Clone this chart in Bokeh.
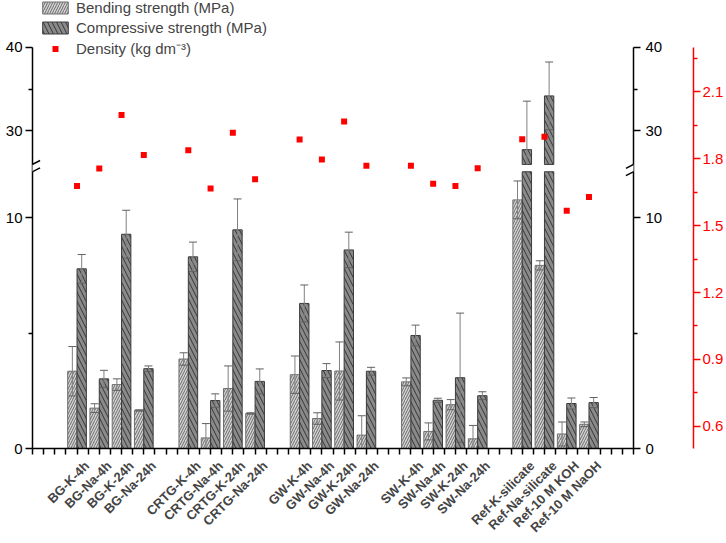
import math
from bokeh.plotting import figure
from bokeh.models import (Range1d, LinearAxis, FixedTicker, CustomJSTickFormatter,
                          Legend, LegendItem, Arrow)
from bokeh.embed import file_html
from bokeh.resources import INLINE

# ---------------- data ----------------
categories = ["BG-K-4h", "BG-Na-4h", "BG-K-24h", "BG-Na-24h",
              "CRTG-K-4h", "CRTG-Na-4h", "CRTG-K-24h", "CRTG-Na-24h",
              "GW-K-4h", "GW-Na-4h", "GW-K-24h", "GW-Na-24h",
              "SW-K-4h", "SW-Na-4h", "SW-K-24h", "SW-Na-24h",
              "Ref-K-silicate", "Ref-Na-silicate", "Ref-10 M KOH", "Ref-10 M NaOH"]
bending = [3.35, 1.75, 2.77, 1.65, 3.88, 0.46, 2.60, 1.52, 3.20, 1.30, 3.36, 0.58,
           2.89, 0.74, 1.90, 0.42, 10.78, 7.94, 0.63, 1.05]
bending_err = [1.07, 0.19, 0.25, 0.03, 0.27, 0.62, 0.98, 0.03, 0.81, 0.25, 1.26, 0.84,
               0.17, 0.37, 0.22, 0.58, 0.82, 0.20, 0.52, 0.10]
compressive = [7.79, 3.02, 9.29, 3.46, 8.31, 2.08, 9.48, 2.91, 6.29, 3.38, 8.61, 3.35,
               4.90, 2.09, 3.07, 2.29, 27.77, 34.20, 1.95, 1.99]
compressive_err = [0.62, 0.37, 1.04, 0.12, 0.64, 0.29, 1.34, 0.54, 0.80, 0.30, 0.77, 0.17,
                   0.45, 0.09, 2.80, 0.17, 5.80, 4.05, 0.24, 0.22]
density = [1.678, 1.757, 1.997, 1.817, 1.838, 1.667, 1.917, 1.708, 1.887, 1.797, 1.968, 1.769,
           1.769, 1.688, 1.678, 1.758, 1.888, 1.899, 1.567, 1.629]
density_ticks = [0.6, 0.9, 1.2, 1.5, 1.8, 2.1]
density_minor = [0.75, 1.05, 1.35, 1.65, 1.95, 2.25]
DENS_MIN, DENS_MAX = 0.5, 2.3
strength_ticks_low = [0, 10]
strength_ticks_up = [30, 40]

# ---------------- layout parameters ----------------
positions = [g * 5 + j + 2 for g in range(5) for j in range(4)]
X_MAX = 27
LOW_MAX = 12.0
UP_MIN, UP_MAX = 26.0, 40.0
WIDTH, HEIGHT = 726, 543
BOTTOM = 94
FRAME_H = HEIGHT - BOTTOM          # frame spans whole top (legend lives inside it)
AXIS_TOP = 47                      # pixel row of the value 40 / density 2.3
AXIS_FRAC = (FRAME_H - AXIS_TOP) / FRAME_H
LOW_FRAC = 0.69                    # share of axis height used by 0..12
UP_FRAC = 0.2918                   # share of axis height used by 26..40
low_end = LOW_MAX / (LOW_FRAC * AXIS_FRAC)
up_k = (UP_MAX - UP_MIN) / (UP_FRAC * AXIS_FRAC)
up_start = UP_MIN - (1 - UP_FRAC) * AXIS_FRAC * up_k
up_end = up_start + up_k
dens_end = DENS_MIN + (DENS_MAX - DENS_MIN) / AXIS_FRAC
BW = 0.42
LABEL_SHIFT = 0.45
FONT = "Liberation Sans"
LEG_H = 59


def up_to_low(v):
    return low_end * (v - up_start) / (up_end - up_start)


p = figure(width=WIDTH, height=HEIGHT, x_range=Range1d(0, X_MAX), y_range=Range1d(0, low_end),
           output_backend="svg", toolbar_location=None,
           min_border_top=0, min_border_bottom=BOTTOM, min_border_left=32, min_border_right=0)
p.extra_y_ranges = {"up": Range1d(up_start, up_end), "dens": Range1d(DENS_MIN, dens_end)}
p.extra_x_ranges = {"lab": Range1d(-LABEL_SHIFT, X_MAX - LABEL_SHIFT)}
p.xgrid.visible = False
p.ygrid.visible = False
p.outline_line_color = None
p.background_fill_color = "white"
p.border_fill_color = "white"

bend_style = dict(fill_color="#d4d4d4", line_color="#707070", line_width=1,
                  hatch_pattern="/", hatch_color="#6a6a6a", hatch_scale=5, hatch_weight=1)
comp_style = dict(fill_color="#8a8a8a", line_color="#3c3c3c", line_width=1,
                  hatch_pattern="\\", hatch_color="#2b2b2b", hatch_scale=9, hatch_weight=0.9)

# ---- bars, lower segment ----
xb = [x - BW / 2 for x in positions]
xc = [x + BW / 2 for x in positions]
r_bend = p.vbar(x=xb, width=BW, bottom=0, top=[min(v, LOW_MAX) for v in bending], **bend_style)
r_comp = p.vbar(x=xc, width=BW, bottom=0, top=[min(v, LOW_MAX) for v in compressive], **comp_style)

# ---- bars, upper segment ----
ub = [(x, v) for x, v in zip(xb, bending) if v > UP_MIN]
uc = [(x, v) for x, v in zip(xc, compressive) if v > UP_MIN]
if ub:
    p.vbar(x=[a for a, b in ub], width=BW, bottom=UP_MIN, top=[b for a, b in ub],
           y_range_name="up", **bend_style)
if uc:
    p.vbar(x=[a for a, b in uc], width=BW, bottom=UP_MIN, top=[b for a, b in uc],
           y_range_name="up", **comp_style)

# ---- error bars ----
low_x0, low_y0, low_y1, low_cx, low_cy = [], [], [], [], []
up_x0, up_y0, up_y1, up_cx, up_cy = [], [], [], [], []
for xs, vals, errs in ((xb, bending, bending_err), (xc, compressive, compressive_err)):
    for x, v, e in zip(xs, vals, errs):
        if v <= LOW_MAX:
            low_x0.append(x); low_y0.append(max(v - e, 0)); low_y1.append(v + e)
            low_cx.append(x); low_cy.append(v + e)
            if v - e >= 0:
                low_cx.append(x); low_cy.append(v - e)
        else:
            up_x0.append(x); up_y0.append(max(v - e, UP_MIN)); up_y1.append(v + e)
            up_cx.append(x); up_cy.append(v + e)
            if v - e >= UP_MIN:
                up_cx.append(x); up_cy.append(v - e)

err_col = "#808080"
p.segment(x0=low_x0, x1=low_x0, y0=low_y0, y1=low_y1, line_color=err_col, line_width=1)
p.scatter(x=low_cx, y=low_cy, marker="dash", size=8, line_color="#606060", line_width=1)
p.segment(x0=up_x0, x1=up_x0, y0=up_y0, y1=up_y1, line_color=err_col, line_width=1,
          y_range_name="up")
p.scatter(x=up_cx, y=up_cy, marker="dash", size=8, line_color="#606060", line_width=1,
          y_range_name="up")

# ---- density ----
r_dens = p.scatter(x=positions, y=density, y_range_name="dens", marker="square", size=6,
                   fill_color="#ff0000", line_color=None)

# ---------------- axes ----------------
strength_ticker = FixedTicker(
    ticks=strength_ticks_low + [up_to_low(v) for v in strength_ticks_up],
    minor_ticks=[(strength_ticks_low[0] + strength_ticks_low[1]) / 2,
                 up_to_low((strength_ticks_up[0] + strength_ticks_up[1]) / 2)])
strength_fmt_code = """
if (tick <= cut + 1e-6) return tick.toFixed(0);
return Math.round(us + tick / lo * (ue - us)).toFixed(0);
"""
fmt_args = dict(lo=low_end, us=up_start, ue=up_end, cut=LOW_MAX)
strength_bounds = (0, up_to_low(UP_MAX))


def style_axis(ax, color="black"):
    ax.axis_line_color = color
    ax.axis_line_width = 1.5
    ax.major_tick_line_color = color
    ax.major_tick_line_width = 1.5
    ax.minor_tick_line_color = color
    ax.minor_tick_line_width = 1.5
    ax.major_tick_in = 0
    ax.major_tick_out = 7
    ax.minor_tick_in = 0
    ax.minor_tick_out = 4
    ax.major_label_text_font = FONT
    ax.major_label_text_font_size = "15px"
    ax.major_label_text_color = color


ly = p.yaxis[0]
ly.ticker = strength_ticker
ly.formatter = CustomJSTickFormatter(args=fmt_args, code=strength_fmt_code)
ly.bounds = strength_bounds
style_axis(ly)
ly.major_label_standoff = 3

ry = LinearAxis(ticker=strength_ticker,
                formatter=CustomJSTickFormatter(args=fmt_args, code=strength_fmt_code),
                bounds=strength_bounds,
                axis_label=" ", axis_label_standoff=14, axis_label_text_font_size="10px")
style_axis(ry)
p.add_layout(ry, "right")

dy = LinearAxis(y_range_name="dens", bounds=(DENS_MIN, DENS_MAX),
                ticker=FixedTicker(ticks=density_ticks, minor_ticks=density_minor))
style_axis(dy, "#ff0000")
dy.major_label_standoff = 2
dy.axis_label_standoff = 0
p.add_layout(dy, "right")

# bottom axis: ticks every half unit, no labels
bx = p.xaxis[0]
bx.ticker = FixedTicker(ticks=[i * 0.5 for i in range(2 * X_MAX + 1)], minor_ticks=[])
bx.formatter = CustomJSTickFormatter(code="return '';")
style_axis(bx)
bx.major_tick_out = 6
bx.major_label_standoff = 0
bx.major_label_text_font_size = "1px"
bx.major_label_text_color = None

# category labels: a second, line-less axis on a slightly shifted range
lx = LinearAxis(x_range_name="lab", ticker=FixedTicker(ticks=positions, minor_ticks=[]),
                formatter=CustomJSTickFormatter(args=dict(pos=positions, names=categories),
                                                code="const i = pos.indexOf(tick); return i < 0 ? '' : names[i];"))
lx.axis_line_color = None
lx.major_tick_line_color = None
lx.minor_tick_line_color = None
lx.major_tick_in = 0
lx.major_tick_out = 0
lx.minor_tick_in = 0
lx.minor_tick_out = 0
lx.major_label_standoff = 9
lx.major_label_orientation = math.pi / 4
lx.major_label_text_font = FONT
lx.major_label_text_font_size = "13px"
lx.major_label_text_font_style = "bold"
p.add_layout(lx, "below")

# ---- axis break marks ----
gap_lo = LOW_MAX
gap_hi = up_to_low(UP_MIN)
for xa in (0, X_MAX):
    p.add_layout(Arrow(start=None, end=None, x_start=xa, x_end=xa, y_start=gap_lo, y_end=gap_hi,
                       line_color="white", line_width=4))
    for yy in (gap_lo, gap_hi):
        p.add_layout(Arrow(start=None, end=None, x_start=xa - 0.34, x_end=xa + 0.34,
                           y_start=yy - 0.17, y_end=yy + 0.17, line_color="black", line_width=1.5))

# ---------------- legend ----------------
legend = Legend(items=[LegendItem(label="Bending strength (MPa)", renderers=[r_bend]),
                       LegendItem(label="Compressive strength (MPa)", renderers=[r_comp]),
                       LegendItem(label="Density (kg dm\u207b\u00b3)", renderers=[r_dens])],
                location=(7, FRAME_H - LEG_H), border_line_color=None, background_fill_alpha=0,
                label_text_font=FONT, label_text_font_size="15px",
                glyph_width=32, glyph_height=15, label_height=19, spacing=1,
                padding=0, margin=0, label_standoff=5)
p.add_layout(legend, "center")

open("out.html", "w").write(file_html(p, INLINE))
